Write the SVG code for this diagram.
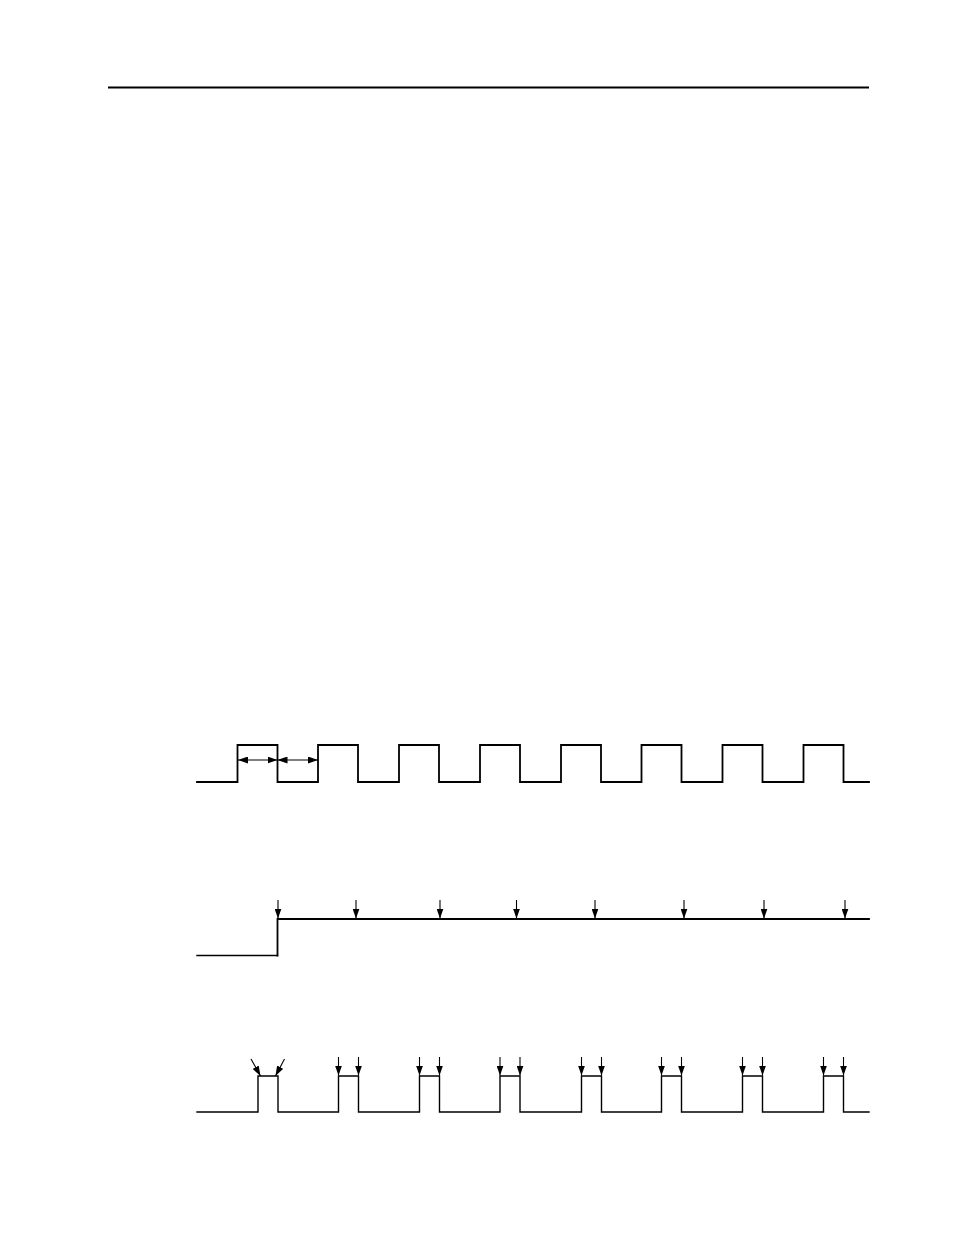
<svg xmlns="http://www.w3.org/2000/svg" width="954" height="1235" viewBox="0 0 954 1235">
<style>
.w{fill:none;stroke:#000;stroke-width:1.8;stroke-linejoin:miter;stroke-linecap:square}
.t{fill:none;stroke:#000;stroke-width:1.4;stroke-linejoin:miter;stroke-linecap:square}
.a{fill:none;stroke:#000;stroke-width:1.1}
</style>
<defs>
<marker id="ah" markerUnits="userSpaceOnUse" markerWidth="10" markerHeight="7" viewBox="0 0 10 7" refX="10" refY="3.5" orient="auto-start-reverse">
<path d="M0,0 L10,3.5 L0,7 Z" fill="#000"/>
</marker>
</defs>
<rect width="954" height="1235" fill="#fff"/>
<line x1="108" y1="87.5" x2="869" y2="87.5" stroke="#000" stroke-width="2"/>
<g id="clock">
<path class="w" d="M197,782 H237.5 V745 H277.5 V782 H318 V745 H358 V782 H399 V745 H439 V782 H480 V745 H520 V782 H561 V745 H601 V782 H641.5 V745 H681.5 V782 H722.5 V745 H762.5 V782 H803.5 V745 H843.5 V782 H869"/>
</g>
<g id="step">
<path class="t" d="M197,955.5 H277.5"/>
<path class="w" d="M277.5,955.5 V919 H869" stroke-width="2.2"/>
</g>
<g id="pulses">
<path class="t" d="M197,1112 H258 V1076 H278 V1112 H338.5 V1076 H358.5 V1112 H419.5 V1076 H439.5 V1112 H500 V1076 H520 V1112 H581.5 V1076 H601.5 V1112 H661.5 V1076 H681.5 V1112 H742.5 V1076 H762.5 V1112 H823.5 V1076 H843.5 V1112 H869"/>
</g>
<g id="connectors">
<line class="a" x1="238" y1="760" x2="277.5" y2="760" marker-start="url(#ah)" marker-end="url(#ah)"/>
<line class="a" x1="277.5" y1="760" x2="318" y2="760" marker-start="url(#ah)" marker-end="url(#ah)"/>
<line class="a" x1="278" y1="900" x2="278" y2="918.5" marker-end="url(#ah)"/>
<line class="a" x1="356" y1="900" x2="356" y2="918.5" marker-end="url(#ah)"/>
<line class="a" x1="440" y1="900" x2="440" y2="918.5" marker-end="url(#ah)"/>
<line class="a" x1="516.5" y1="900" x2="516.5" y2="918.5" marker-end="url(#ah)"/>
<line class="a" x1="595" y1="900" x2="595" y2="918.5" marker-end="url(#ah)"/>
<line class="a" x1="684" y1="900" x2="684" y2="918.5" marker-end="url(#ah)"/>
<line class="a" x1="764" y1="900" x2="764" y2="918.5" marker-end="url(#ah)"/>
<line class="a" x1="845" y1="900" x2="845" y2="918.5" marker-end="url(#ah)"/>
<line class="a" x1="251" y1="1059" x2="260.5" y2="1076" marker-end="url(#ah)"/>
<line class="a" x1="284.5" y1="1059" x2="275.5" y2="1076" marker-end="url(#ah)"/>
<line class="a" x1="338.5" y1="1057" x2="338.5" y2="1075.5" marker-end="url(#ah)"/>
<line class="a" x1="358.5" y1="1057" x2="358.5" y2="1075.5" marker-end="url(#ah)"/>
<line class="a" x1="419.5" y1="1057" x2="419.5" y2="1075.5" marker-end="url(#ah)"/>
<line class="a" x1="439.5" y1="1057" x2="439.5" y2="1075.5" marker-end="url(#ah)"/>
<line class="a" x1="500" y1="1057" x2="500" y2="1075.5" marker-end="url(#ah)"/>
<line class="a" x1="520" y1="1057" x2="520" y2="1075.5" marker-end="url(#ah)"/>
<line class="a" x1="581.5" y1="1057" x2="581.5" y2="1075.5" marker-end="url(#ah)"/>
<line class="a" x1="601.5" y1="1057" x2="601.5" y2="1075.5" marker-end="url(#ah)"/>
<line class="a" x1="661.5" y1="1057" x2="661.5" y2="1075.5" marker-end="url(#ah)"/>
<line class="a" x1="681.5" y1="1057" x2="681.5" y2="1075.5" marker-end="url(#ah)"/>
<line class="a" x1="742.5" y1="1057" x2="742.5" y2="1075.5" marker-end="url(#ah)"/>
<line class="a" x1="762.5" y1="1057" x2="762.5" y2="1075.5" marker-end="url(#ah)"/>
<line class="a" x1="823.5" y1="1057" x2="823.5" y2="1075.5" marker-end="url(#ah)"/>
<line class="a" x1="843.5" y1="1057" x2="843.5" y2="1075.5" marker-end="url(#ah)"/>
</g>
</svg>
